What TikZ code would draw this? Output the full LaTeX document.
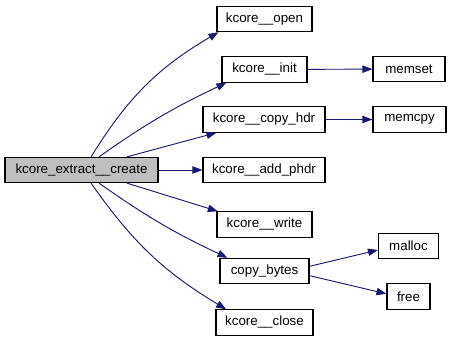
\documentclass[tikz,border=0pt]{standalone}
\usepackage{fontspec}
\setmainfont{Liberation Sans}
\usetikzlibrary{arrows.meta}
\definecolor{edgecol}{RGB}{25,25,112}
\definecolor{maingray}{RGB}{191,191,191}
\begin{document}
\begin{tikzpicture}[x=0.75pt,y=-0.75pt,
  fbox/.style={draw=black,line width=0.8pt,fill=white,inner sep=0pt,minimum height=19pt,font=\fontsize{10}{12}\selectfont},
  call/.style={draw=edgecol,line width=0.7pt,-{Triangle[length=7.5pt,width=5.5pt]}}]
\useasboundingbox (0,0) rectangle (451,341);
\node[fbox,fill=maingray,minimum width=114.75pt] (main) at (81.5,170) {kcore\_extract\_\_create};
\node[fbox,minimum width=71.25pt] (open) at (264.5,19) {kcore\_\_open};
\node[fbox,minimum width=63.75pt] (init) at (264.5,69.5) {kcore\_\_init};
\node[fbox,minimum width=91.5pt] (copyhdr) at (264,119.5) {kcore\_\_copy\_hdr};
\node[fbox,minimum width=91.5pt] (addphdr) at (264,170) {kcore\_\_add\_phdr};
\node[fbox,minimum width=71.25pt] (write) at (264.5,224.5) {kcore\_\_write};
\node[fbox,minimum width=66.75pt] (copybytes) at (264.5,271) {copy\_bytes};
\node[fbox,minimum width=72.75pt] (close) at (264.5,322.5) {kcore\_\_close};
\node[fbox,minimum width=54pt] (memset) at (409,69) {memset};
\node[fbox,minimum width=54.75pt] (memcpy) at (409.5,119.5) {memcpy};
\node[fbox,minimum width=45pt] (malloc) at (408.5,246) {malloc};
\node[fbox,minimum width=32.25pt] (free) at (408.5,296.5) {free};
% start points on the caller
\coordinate (sn1) at ([xshift=65pt]main.north west);
\coordinate (sn2) at ([xshift=71pt]main.north west);
\coordinate (sn3) at ([xshift=92pt]main.north west);
\coordinate (ss1) at ([xshift=65pt]main.south west);
\coordinate (ss2) at ([xshift=71pt]main.south west);
\coordinate (ss3) at ([xshift=92pt]main.south west);
% end points on the callees
\coordinate (eopen) at ([xshift=1.5pt]open.south west);
\coordinate (einit) at ([xshift=3.75pt]init.south west);
\coordinate (ecopyhdr) at ([xshift=10.5pt]copyhdr.south west);
\coordinate (ewrite) at ([xshift=1pt]write.north west);
\coordinate (ecopybytes) at ([xshift=6pt]copybytes.north west);
\coordinate (eclose) at ([xshift=8pt]close.north west);
\draw[call] (sn1) to[bend left=14] (eopen);
\draw[call] (sn2) to[bend left=5] (einit);
\draw[call] (sn3) -- (ecopyhdr);
\draw[call] (main) -- (addphdr);
\draw[call] (ss3) -- (ewrite);
\draw[call] (ss2) to[bend right=5] (ecopybytes);
\draw[call] (ss1) to[bend right=12] (eclose);
\draw[call] (init) -- (memset);
\draw[call] (copyhdr) -- (memcpy);
\draw[call] ([yshift=3.5pt]copybytes.east) -- ([yshift=-3pt]malloc.west);
\draw[call] ([yshift=-3.5pt]copybytes.east) -- ([yshift=2pt]free.west);
\end{tikzpicture}
\end{document}
